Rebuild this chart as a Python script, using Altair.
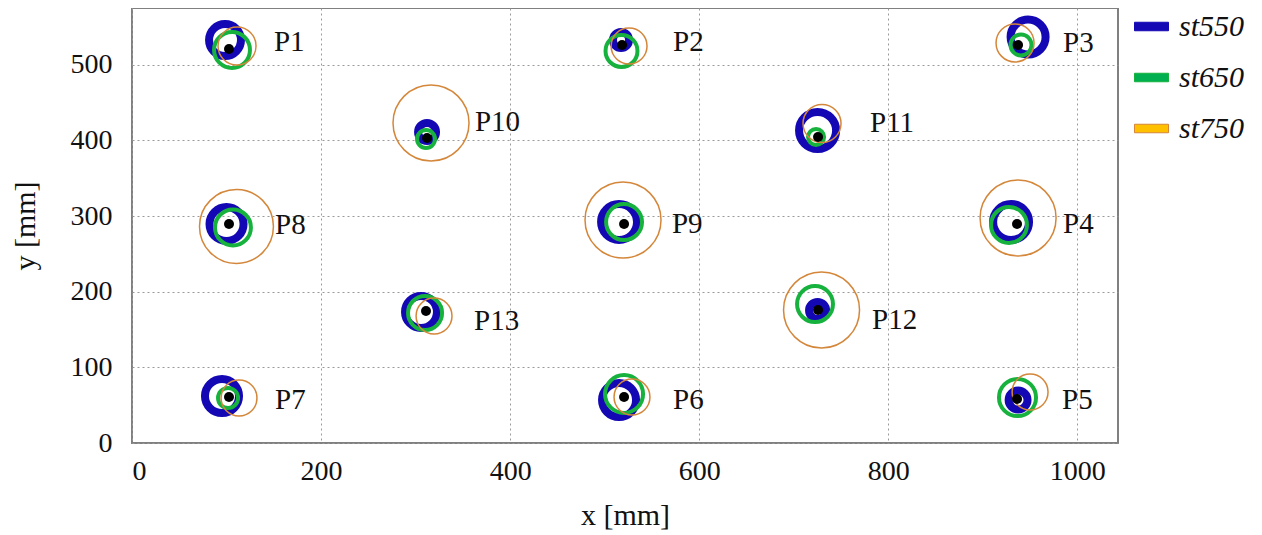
import altair as alt
import pandas as pd

# ---------------- data (mm) ----------------
points = ["P1", "P2", "P3", "P4", "P5", "P6", "P7", "P8", "P9", "P10", "P11", "P12", "P13"]

# measurement points (black dots)
dot_x = [102.6, 518.4, 937.3, 936.2, 936.2, 520.5, 102.6, 102.6, 520.5, 312.1, 725.7, 725.7, 311.0]
dot_y = [520.8, 526.1, 526.1, 289.5, 58.2, 60.8, 60.8, 289.5, 289.5, 403.2, 404.5, 175.8, 174.5]

# st550 circles: centre and radius
st550_x = [98.4, 517.3, 947.9, 929.9, 937.3, 515.2, 95.2, 100.0, 515.2, 312.1, 725.2, 725.2, 305.7]
st550_y = [532.7, 532.7, 536.7, 292.1, 56.8, 56.8, 62.1, 289.5, 292.1, 411.1, 413.1, 175.2, 173.2]
st550_r = [16.9, 8.5, 18.5, 19.0, 10.0, 18.0, 18.0, 18.0, 19.0, 9.5, 19.6, 9.0, 16.9]

# st650 circles
st650_x = [105.8, 517.8, 940.4, 927.7, 936.7, 520.5, 101.6, 106.8, 520.5, 311.0, 723.6, 722.5, 310.0]
st650_y = [519.5, 518.2, 526.1, 288.2, 60.1, 64.8, 59.5, 284.9, 292.1, 401.9, 404.5, 183.7, 171.8]
st650_r = [19.0, 16.9, 11.1, 19.0, 19.6, 20.1, 10.6, 19.0, 19.0, 9.5, 8.5, 19.0, 18.0]

# st750 circles
st750_x = [111.1, 525.8, 934.1, 937.3, 950.0, 528.9, 113.2, 110.5, 519.4, 316.3, 729.9, 729.4, 319.5]
st750_y = [524.8, 524.8, 528.8, 297.4, 67.4, 60.8, 59.5, 286.2, 294.8, 423.0, 422.3, 175.8, 167.9]
st750_r = [20.1, 19.0, 20.1, 40.2, 19.0, 19.0, 19.0, 39.1, 40.2, 40.2, 20.1, 40.2, 19.0]

# point label positions
label_x = [150.2, 572.3, 984.9, 984.9, 983.8, 572.3, 151.3, 151.3, 571.2, 362.8, 780.7, 782.8, 361.8]
label_y = [530.1, 530.1, 528.8, 289.5, 56.8, 56.8, 56.8, 288.2, 289.5, 424.3, 423.0, 163.0, 161.3]

x_ticks = [0, 200, 400, 600, 800, 1000]
y_ticks = [0, 100, 200, 300, 400, 500]

series_names = ["st550", "st650", "st750"]
series_colors = ["#1408B4", "#17B23E", "#D4873A"]
legend_colors = ["#1408B4", "#00B050", "#FFC000"]
stroke_widths = [8, 4, 1.5]

# ---------------- layout ----------------
X_MAX = 1043
Y_MAX = 575
PLOT_W = 986
PLOT_H = 435
PX_PER_MM = PLOT_W / X_MAX
FONT = "'Liberation Serif', 'Times New Roman', Times, serif"

rows = []
for name, xs, ys, rs, sw in [
    ("st550", st550_x, st550_y, st550_r, stroke_widths[0]),
    ("st650", st650_x, st650_y, st650_r, stroke_widths[1]),
    ("st750", st750_x, st750_y, st750_r, stroke_widths[2]),
]:
    for p, x, y, r in zip(points, xs, ys, rs):
        rows.append({"point": p, "series": name, "x": x, "y": y, "r": r, "sw": sw})
circles = pd.DataFrame(rows)

dots = pd.DataFrame({"point": points, "x": dot_x, "y": dot_y})
labels = pd.DataFrame({"point": points, "x": label_x, "y": label_y})
legend_df = pd.DataFrame({"series": series_names})

xscale = alt.Scale(domain=[0, X_MAX], nice=False, zero=False)
yscale = alt.Scale(domain=[0, Y_MAX], nice=False, zero=False)

x_enc = alt.X(
    "x:Q", scale=xscale,
    axis=alt.Axis(values=x_ticks, format="d", title="x [mm]", labelPadding=14, titlePadding=15),
)
y_enc = alt.Y(
    "y:Q", scale=yscale,
    axis=alt.Axis(values=y_ticks, format="d", title="y [mm]", labelPadding=20, titlePadding=30),
)

circle_layer = (
    alt.Chart(circles)
    .transform_calculate(size=f"pow(2 * datum.r * {PX_PER_MM}, 2)")
    .mark_point(filled=False, shape="circle", opacity=1)
    .encode(
        x=x_enc,
        y=y_enc,
        stroke=alt.Stroke("series:N", scale=alt.Scale(domain=series_names, range=series_colors), legend=None),
        strokeWidth=alt.StrokeWidth("sw:Q", scale=None),
        size=alt.Size("size:Q", scale=None),
    )
)

dot_layer = (
    alt.Chart(dots)
    .mark_point(filled=True, shape="circle", color="black", size=100, opacity=1)
    .encode(x=x_enc, y=y_enc)
)

label_layer = (
    alt.Chart(labels)
    .mark_text(align="left", baseline="middle", font=FONT, fontSize=29, color="#111111")
    .encode(x=x_enc, y=y_enc, text="point:N")
)

legend_layer = (
    alt.Chart(legend_df)
    .transform_filter("false")
    .mark_point(filled=True, opacity=1, shape="square")
    .encode(
        fill=alt.Fill(
            "series:N",
            scale=alt.Scale(domain=series_names, range=legend_colors),
            legend=alt.Legend(
                title=None,
                orient="none",
                legendX=1002,
                legendY=1,
                symbolType="M-1,-0.25L1,-0.25L1,0.25L-1,0.25Z",
                symbolSize=1156,
                symbolStrokeColor="#555555",
                symbolStrokeWidth=1,
                labelFont=FONT,
                labelFontStyle="italic",
                labelFontSize=30,
                labelColor="#111111",
                labelOffset=10,
                rowPadding=18,
            ),
        )
    )
)

chart = (
    alt.layer(legend_layer, circle_layer, dot_layer, label_layer)
    .properties(
        width=PLOT_W,
        height=PLOT_H,
        autosize=alt.AutoSizeParams(type="none"),
        padding={"left": 124, "top": 0, "right": 136, "bottom": 90},
    )
    .configure_view(stroke="#808080", strokeWidth=2)
    .configure_axis(
        grid=True,
        gridColor="#9a9a9a",
        gridDash=[2, 3],
        gridWidth=1,
        ticks=False,
        domain=False,
        labelFont=FONT,
        labelFontSize=28,
        labelColor="#111111",
        titleFont=FONT,
        titleFontSize=30,
        titleFontWeight="normal",
        titleColor="#111111",
    )
)

chart.save("out.html", embed_options={"renderer": "svg", "actions": False})
